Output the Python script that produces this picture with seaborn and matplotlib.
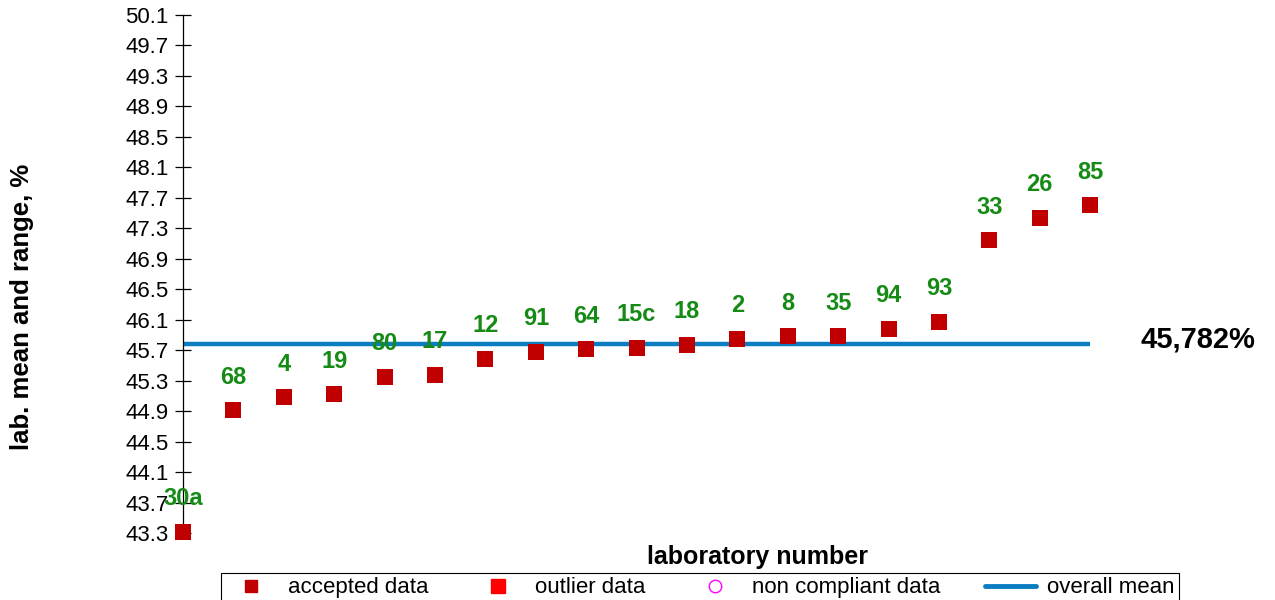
import pandas as pd
import seaborn as sns
import matplotlib.pyplot as plt
from matplotlib.lines import Line2D

# lab results, sorted ascending
labs = ["30a", "68", "4", "19", "80", "17", "12", "91", "64", "15c",
        "18", "2", "8", "35", "94", "93", "33", "26", "85"]
lab_means = [43.31, 44.91, 45.08, 45.12, 45.35, 45.38, 45.58, 45.68, 45.71, 45.73,
             45.77, 45.85, 45.88, 45.88, 45.98, 46.07, 47.14, 47.44, 47.60]
overall_mean = 45.782
yticks = [43.3, 43.7, 44.1, 44.5, 44.9, 45.3, 45.7, 46.1, 46.5, 46.9,
          47.3, 47.7, 48.1, 48.5, 48.9, 49.3, 49.7, 50.1]

df = pd.DataFrame({"lab": labs, "mean": lab_means})
df["pos"] = range(len(df))

sns.set_style("white")
plt.rcParams["font.family"] = ["Liberation Sans", "DejaVu Sans"]
plt.rcParams["text.color"] = "black"
plt.rcParams["ytick.color"] = "black"
plt.rcParams["axes.labelcolor"] = "black"

fig = plt.figure(figsize=(12.75, 6), dpi=100)
ax = fig.add_axes([0.1435, 0.1117, 0.7511, 0.8633])

# overall mean line
ax.hlines(overall_mean, df["pos"].min(), df["pos"].max(), color="#0a7cc1", lw=3.2, zorder=2)

sns.scatterplot(data=df, x="pos", y="mean", marker="s", color="#c00000",
                s=140, linewidth=0, ax=ax, zorder=3, legend=False, clip_on=False)

# lab number labels
for _, r in df.iterrows():
    ax.annotate(r["lab"], (r["pos"], r["mean"]), xytext=(0, 24), textcoords="offset points",
                ha="center", va="center", color="#158a15", fontsize=17,
                fontweight="bold", zorder=4, annotation_clip=False)

ax.text(19.0, overall_mean + 0.06, "45,782%", ha="left", va="center",
        fontsize=21, fontweight="bold", color="black")

ax.set_xlim(0, 19)
ax.set_ylim(43.3, 50.1)
ax.set_yticks(yticks)
ax.set_yticklabels([f"{t:.1f}" for t in yticks], fontsize=16)
ax.set_xticks([])
ax.tick_params(axis="y", direction="inout", length=11, width=0.9, color="black", pad=5, left=True)
for side in ["top", "right", "bottom"]:
    ax.spines[side].set_visible(False)
ax.spines["left"].set_color("black")
ax.spines["left"].set_linewidth(0.9)
ax.set_xlabel("")
ax.set_ylabel("")

fig.text(0.0175, 0.488, "lab. mean and range, %", rotation=90, ha="center", va="center",
         fontsize=18.5, fontweight="bold")
fig.text(0.594, 0.072, "laboratory number", ha="center", va="center",
         fontsize=18, fontweight="bold")

handles = [
    Line2D([], [], ls="none", marker="s", color="#c00000", markersize=9),
    Line2D([], [], ls="none", marker="s", color="#ff0000", markersize=10),
    Line2D([], [], ls="none", marker="o", markerfacecolor="none", markeredgecolor="#ff00ff", markersize=9),
    Line2D([], [], color="#0a7cc1", lw=3.5),
]
leg = fig.legend(handles, ["accepted data", "outlier data", "non compliant data", "overall mean"],
                 loc="upper center", bbox_to_anchor=(0.549, 0.047 + 0.0167), ncol=4, frameon=True,
                 fancybox=False, framealpha=1, edgecolor="black", borderpad=0.2,
                 columnspacing=2.0, handlelength=2.3, handletextpad=0.5,
                 prop={"size": 16})
leg.get_frame().set_linewidth(0.8)

fig.savefig("out.png", dpi=100)
